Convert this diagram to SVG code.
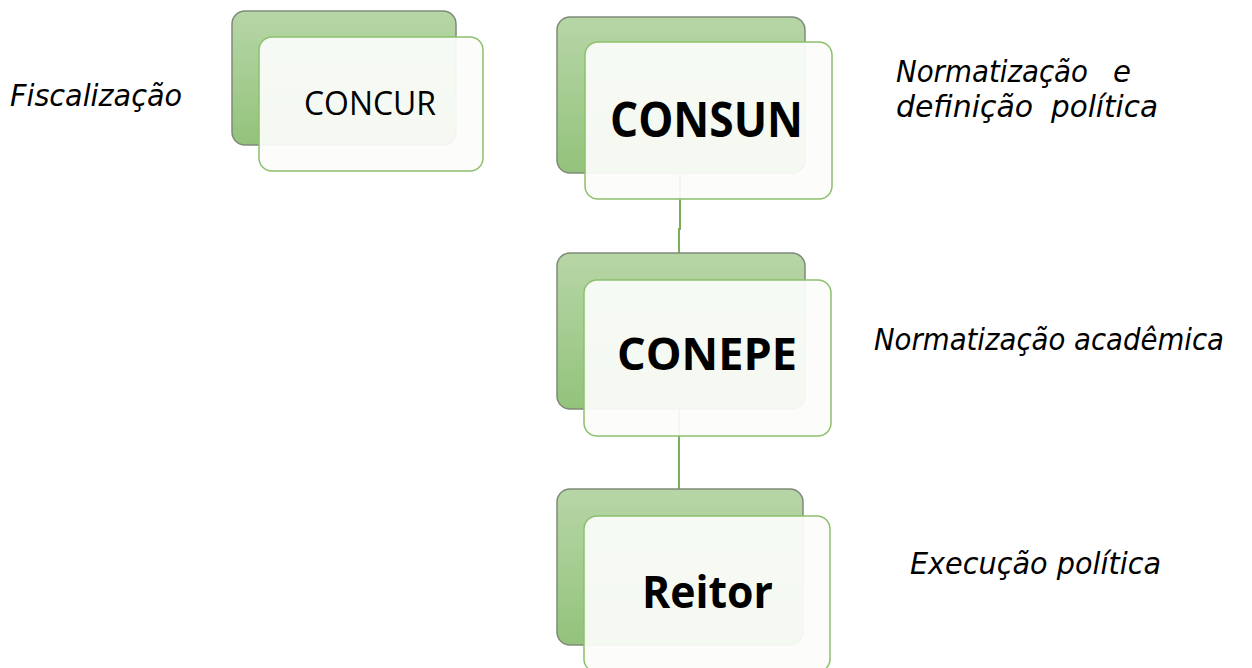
<svg xmlns="http://www.w3.org/2000/svg" width="1252" height="668" viewBox="0 0 1252 668">
<defs>
<linearGradient id="g" x1="0" y1="0" x2="0" y2="1">
<stop offset="0" stop-color="#b7d6a7"/>
<stop offset="1" stop-color="#93c37b"/>
</linearGradient>
<style>
.back{fill:url(#g);stroke:#7f8a7a;stroke-width:1.5}
.front{fill:#fcfdfb;fill-opacity:0.93;stroke:#8cc06c;stroke-width:1.5}
.lbl{font-family:"Open Sans","Noto Sans",sans-serif;fill:#000}
.b{font-weight:bold}
.side{font-family:"DejaVu Sans",sans-serif;font-style:italic;font-size:30px;fill:#000}
.conn{stroke:#7dae5d;stroke-width:2;fill:none}
</style>
</defs>
<rect width="1252" height="668" fill="#fff"/>
<g id="connectors">
<path class="conn" d="M680,173 V229 H679 V253"/>
<path class="conn" d="M679,409 V489"/>
</g>
<g id="concur">
<rect class="back" x="232" y="11" width="224" height="134" rx="13"/>
<rect class="front" x="259" y="37" width="224" height="134" rx="13"/>
<text class="lbl" x="304" y="115" font-size="33" textLength="132" lengthAdjust="spacingAndGlyphs">CONCUR</text>
</g>
<g id="consun">
<rect class="back" x="557" y="17" width="248" height="156" rx="13"/>
<rect class="front" x="585" y="42" width="247" height="157" rx="13"/>
<text class="lbl b" x="610" y="137" font-size="49" textLength="193" lengthAdjust="spacingAndGlyphs">CONSUN</text>
</g>
<g id="conepe">
<rect class="back" x="557" y="253" width="248" height="156" rx="13"/>
<rect class="front" x="584" y="280" width="247" height="156" rx="13"/>
<text class="lbl b" x="617" y="370" font-size="45" textLength="180" lengthAdjust="spacingAndGlyphs">CONEPE</text>
</g>
<g id="reitor">
<rect class="back" x="557" y="489" width="246" height="156" rx="13"/>
<rect class="front" x="584" y="516" width="246" height="156" rx="13"/>
<text class="lbl b" x="642" y="608" font-size="45" textLength="131" lengthAdjust="spacingAndGlyphs">Reitor</text>
</g>
<g id="labels">
<text class="side" x="10" y="106" textLength="172" lengthAdjust="spacingAndGlyphs">Fiscalização</text>
<text class="side" x="896" y="82"><tspan textLength="192" lengthAdjust="spacingAndGlyphs">Normatização</tspan><tspan x="1113" textLength="18" lengthAdjust="spacingAndGlyphs">e</tspan></text>
<text class="side" x="896" y="117"><tspan textLength="137" lengthAdjust="spacingAndGlyphs">definição</tspan><tspan x="1051" textLength="107" lengthAdjust="spacingAndGlyphs">política</tspan></text>
<text class="side" x="874" y="350" font-size="27" textLength="350" lengthAdjust="spacingAndGlyphs">Normatização acadêmica</text>
<text class="side" x="910" y="574" textLength="251" lengthAdjust="spacingAndGlyphs">Execução política</text>
</g>
</svg>
